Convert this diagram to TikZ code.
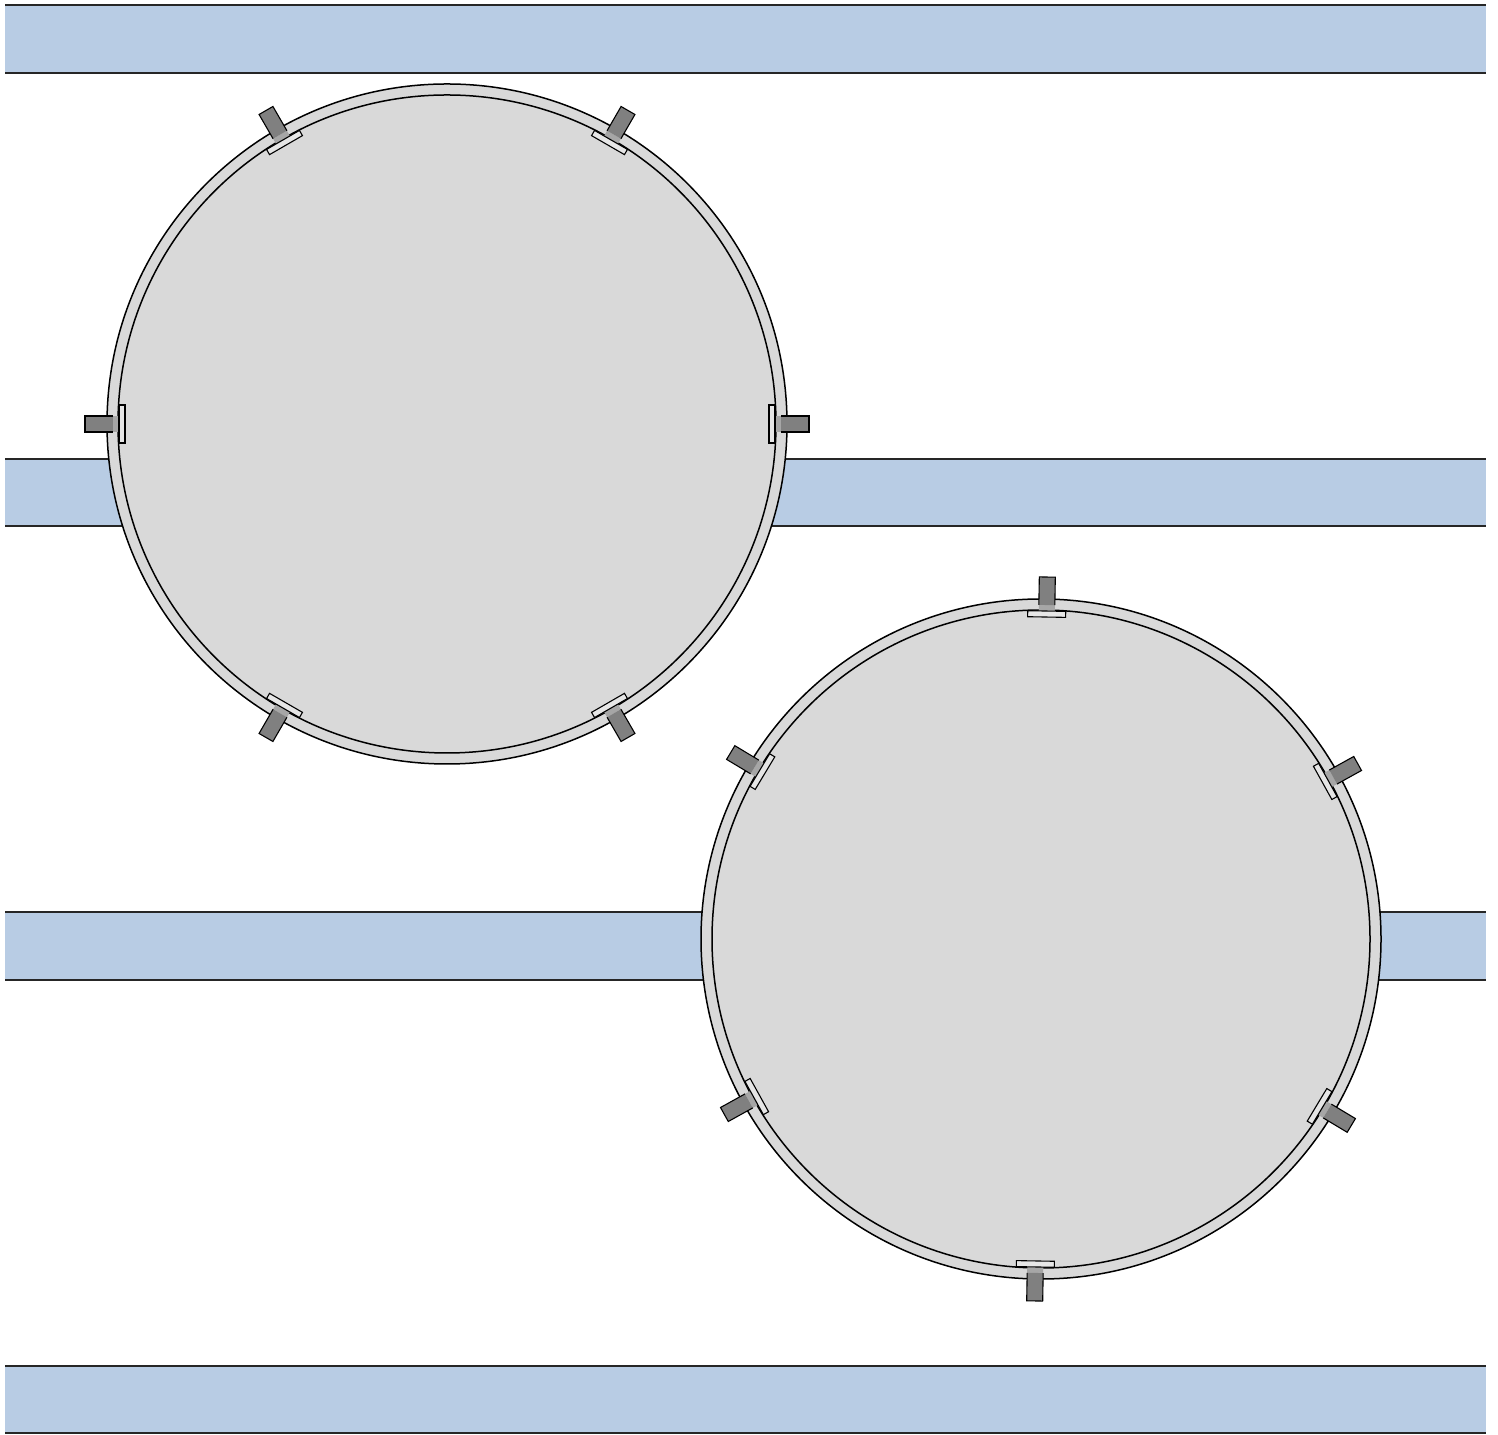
\documentclass[tikz,border=0pt]{standalone}
\begin{document}
\begin{tikzpicture}[x=1pt,y=1pt,line join=miter]
\definecolor{bandblue}{HTML}{B8CCE4}
\definecolor{disc}{HTML}{D9D9D9}
\definecolor{tabdark}{HTML}{808080}
\definecolor{tablight}{HTML}{A6A6A6}
\definecolor{plate}{HTML}{E6E6E6}
\tikzset{
  bandline/.style={line width=1.2pt,draw=black!85},
  ringline/.style={line width=1.5pt,draw=black},
  tabline/.style={line width=1.1pt,draw=black},
}
\useasboundingbox (0,0) rectangle (1498,1434);
% bands
\foreach \yb/\yt in {1361/1429, 908/975, 454/522, 1/68}{
  \fill[bandblue] (5,\yb) rectangle (1486,\yt);
  \draw[bandline] (5,\yb) -- (1486,\yb);
  \draw[bandline] (5,\yt) -- (1486,\yt);
}
% drums
\foreach \cx/\cy/\off in {447/1010/0, 1041/495/-1}{
  \begin{scope}[shift={(\cx,\cy)}]
    \fill[disc] (0,0) circle[radius=340];
    \draw[ringline] (0,0) circle[radius=340];
    \draw[ringline] (0,0) circle[radius=329];
    \foreach \k in {0,...,5}{
      \pgfmathsetmacro{\ang}{\off+(\cx==447 ? 0 : 30)+60*\k}
      \begin{scope}[rotate=\ang]
        \fill[tablight] (328,-8) rectangle (334,8);
        \fill[tabdark] (334,-8) rectangle (362,8);
        \draw[tabline] (334,-8) -- (362,-8) -- (362,8) -- (334,8);
        \draw[tabline,fill=plate] (322,-19) rectangle (328,19);
      \end{scope}
    }
  \end{scope}
}
\end{tikzpicture}
\end{document}
